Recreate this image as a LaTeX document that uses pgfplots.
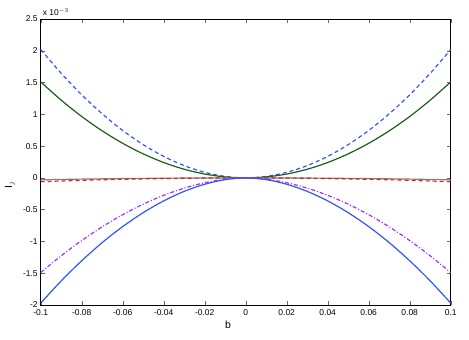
\documentclass[border=0pt]{standalone}
\usepackage{fontspec}
\setmainfont{Liberation Sans}
\usepackage{pgfplots}
\pgfplotsset{compat=1.18}
\usetikzlibrary{calc}

\definecolor{mblue}{RGB}{51,85,255}
\definecolor{mgreen}{RGB}{26,94,26}
\definecolor{mpurple}{RGB}{153,51,255}
\definecolor{mred}{RGB}{224,32,32}
\definecolor{mgray}{RGB}{128,128,128}

\begin{document}
\begin{tikzpicture}
\begin{axis}[
    scale only axis, width=410bp, height=286bp,
    xmin=-0.1, xmax=0.1, ymin=-2, ymax=2.5,
    xtick={-0.1,-0.08,...,0.1}, ytick={-2,-1.5,...,2.5},
    tick align=inside, major tick length=4bp,
    xtick pos=both, ytick pos=both,
    axis line style={black, line width=0.5pt},
    tick style={black!60, line width=0.4pt},
    /pgf/number format/assume math mode=true,
    /pgf/number format/fixed,
    /pgf/number format/precision=2,
    xticklabel style={font=\fontsize{8.5}{9}\selectfont, yshift=-1.5bp},
    yticklabel style={font=\fontsize{8.5}{9}\selectfont, xshift=0.5bp},
    scaled ticks=false,
    xlabel={b}, ylabel={I$_j$},
    label style={font=\fontsize{10.5}{11}\selectfont},
    xlabel style={at={(axis description cs:0.457,-0.07)}, anchor=center},
    ylabel style={at={(axis description cs:-0.075,0.42)}, anchor=center},
    clip=false,
    every axis plot/.append style={smooth, tension=0.5},
]
\coordinate (o) at (rel axis cs:0,0);
\coordinate (tl) at (rel axis cs:0,1);
% upper dashed blue
\addplot[mblue, dash pattern=on 4bp off 3bp, line width=1.2pt] coordinates {
(-0.1,2.02) (-0.09,1.645) (-0.08,1.307) (-0.07,1.008) (-0.06,0.746) (-0.05,0.523)
(-0.04,0.338) (-0.03,0.193) (-0.02,0.0877) (-0.01,0.0227) (0,0)
(0.01,0.0227) (0.02,0.0877) (0.03,0.193) (0.04,0.338) (0.05,0.523) (0.06,0.746)
(0.07,1.008) (0.08,1.307) (0.09,1.645) (0.1,2.02)
};
% green solid
\addplot[mgreen, line width=1.2pt] coordinates {
(-0.1,1.51) (-0.09,1.223) (-0.08,0.966) (-0.07,0.740) (-0.06,0.544) (-0.05,0.378)
(-0.04,0.242) (-0.03,0.136) (-0.02,0.0604) (-0.01,0.0151) (0,0)
(0.01,0.0151) (0.02,0.0604) (0.03,0.136) (0.04,0.242) (0.05,0.378) (0.06,0.544)
(0.07,0.740) (0.08,0.966) (0.09,1.223) (0.1,1.51)
};
% gray solid
\addplot[mgray, line width=1.2pt] coordinates {
(-0.1,-0.03) (-0.08,-0.019) (-0.06,-0.011) (-0.04,-0.005) (-0.02,-0.001) (0,0)
(0.02,-0.001) (0.04,-0.005) (0.06,-0.011) (0.08,-0.019) (0.1,-0.03)
};
% red dashed
\addplot[mred, dash pattern=on 4bp off 3bp, line width=1.2pt] coordinates {
(-0.1,-0.06) (-0.08,-0.038) (-0.06,-0.022) (-0.04,-0.01) (-0.02,-0.0024) (0,0)
(0.02,-0.0024) (0.04,-0.01) (0.06,-0.022) (0.08,-0.038) (0.1,-0.06)
};
% purple dash-dot
\addplot[mpurple, dash pattern=on 4bp off 2bp on 1bp off 2bp, line width=1.2pt] coordinates {
(-0.1,-1.49) (-0.09,-1.226) (-0.08,-0.986) (-0.07,-0.770) (-0.06,-0.579) (-0.05,-0.413)
(-0.04,-0.274) (-0.03,-0.161) (-0.02,-0.0758) (-0.01,-0.0211) (0,0)
(0.01,-0.0211) (0.02,-0.0758) (0.03,-0.161) (0.04,-0.274) (0.05,-0.413) (0.06,-0.579)
(0.07,-0.770) (0.08,-0.986) (0.09,-1.226) (0.1,-1.49)
};
% lower solid blue
\addplot[mblue, line width=1.2pt] coordinates {
(-0.1,-1.97) (-0.09,-1.621) (-0.08,-1.304) (-0.07,-1.018) (-0.06,-0.766) (-0.05,-0.547)
(-0.04,-0.362) (-0.03,-0.212) (-0.02,-0.100) (-0.01,-0.0278) (0,0)
(0.01,-0.0278) (0.02,-0.100) (0.03,-0.212) (0.04,-0.362) (0.05,-0.547) (0.06,-0.766)
(0.07,-1.018) (0.08,-1.304) (0.09,-1.621) (0.1,-1.97)
};
\end{axis}
\node[anchor=south west, font=\fontsize{8.5}{9}\selectfont, inner sep=0pt] at ($(tl)+(2bp,3bp)$) {x 10$^{-3}$};
\pgfresetboundingbox
\path ($(o)+(-40.7bp,-35bp)$) rectangle ($(o)+(428.3bp,305bp)$);
\end{tikzpicture}
\end{document}
